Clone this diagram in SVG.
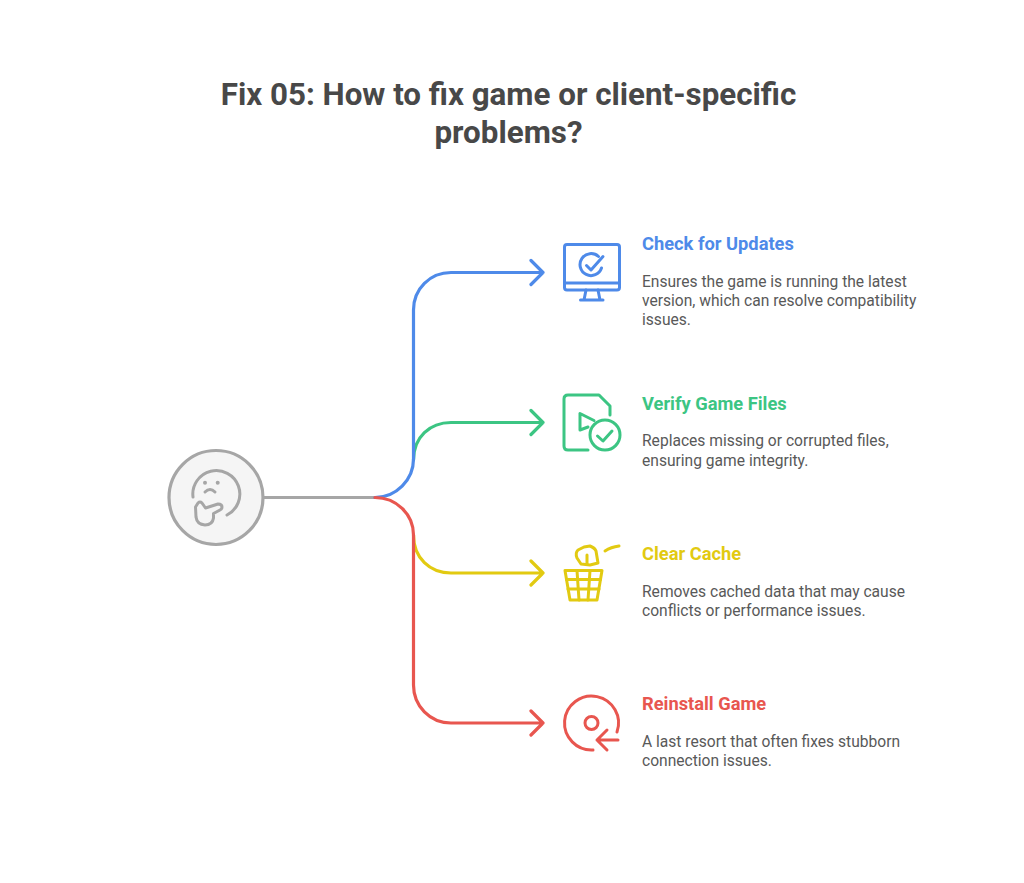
<svg xmlns="http://www.w3.org/2000/svg" width="1024" height="883" viewBox="0 0 1024 883">
<style>
text{font-family:Roboto,"Liberation Sans",sans-serif}
.t{font-size:31.350px;font-weight:700;fill:#484848;text-anchor:middle}
.h{font-size:18.300px;font-weight:700}
.b{font-size:15.600px;fill:#595959}
.l{fill:none;stroke-width:3.200;stroke-linecap:round;stroke-linejoin:round}
.i{fill:none;stroke-width:3;stroke-linecap:round;stroke-linejoin:round}
.blue{stroke:#4e8ae9}.green{stroke:#3cc583}.yellow{stroke:#e2ca11}.red{stroke:#e8564f}.gray{stroke:#a6a6a6}
</style>
<rect width="1024" height="883" fill="#fff"/>
<g id="title"><text class="t" x="508.500" y="105">Fix 05: How to fix game or client-specific</text><text class="t" x="508.500" y="143">problems?</text></g>
<g id="connectors">
<path class="l gray" d="M263 497.500H375"/>
<path class="l green" d="M413.500 460C413.500 437 430 422.500 451 422.500H543M531 410.500L543 422.500L531 434.500"/>
<path class="l yellow" d="M413.500 535C413.500 558 430 573 451 573H543M531 561L543 573L531 585"/>
<path class="l blue" d="M375 497.500C396 497.500 413.500 480 413.500 459V310C413.500 289 430 272.500 451 272.500H543M531 260.500L543 272.500L531 284.500"/>
<path class="l red" d="M375 497.500C396 497.500 413.500 514 413.500 535V685C413.500 706 430 723 451 723H543M531 711L543 723L531 735"/>
</g>
<g id="center">
<circle cx="216" cy="497.500" r="47" fill="#f5f5f5" stroke="#a6a6a6" stroke-width="3.200"/>
<g class="i gray">
<path d="M193 497A23.500 23.500 0 1 1 227 515"/>
<path d="M205 492Q210 487 215 492"/>
<path d="M195.500 507L198 503Q200 501 202 503L205.500 508L218 504Q222 504 222 507Q222 509 220 510L213.500 513.500V518Q212.500 525 205 525Q197 524.500 196 517Z"/>
</g>
<circle cx="205" cy="482.700" r="2" fill="#a6a6a6"/><circle cx="217.700" cy="482.700" r="2" fill="#a6a6a6"/>
</g>
<g id="check-updates">
<g class="i blue">
<rect x="564.500" y="244.500" width="55" height="45.500" rx="2.500"/>
<path d="M564.500 283H619.500M586 290L584 300M598 290L600 300M580.500 300H603"/>
<path d="M598.500 256.500A11 11 0 1 0 601.500 268"/>
<path d="M586.500 265.500L591 270L603 256.500"/>
</g>
<text class="h" x="642" y="249.500" fill="#4e8ae9">Check for Updates</text>
<text class="b" x="642" y="287">Ensures the game is running the latest</text>
<text class="b" x="642" y="306">version, which can resolve compatibility</text>
<text class="b" x="642" y="325">issues.</text>
</g>
<g id="verify-files">
<g class="i green">
<path d="M610 415V406L599 395H568Q564 395 564 399V446Q564 450 568 450H588"/>
<path d="M594 420.500L580 413.500V430L588 427"/>
<circle cx="605" cy="435" r="15"/>
<path d="M597.500 436L603 441L612 431"/>
</g>
<text class="h" x="642" y="409.500" fill="#3cc583">Verify Game Files</text>
<text class="b" x="642" y="446">Replaces missing or corrupted files,</text>
<text class="b" x="642" y="466">ensuring game integrity.</text>
</g>
<g id="clear-cache">
<g class="i yellow">
<path d="M565 570.500H602L597 600H570Z"/>
<path d="M566.500 579.500H600.500M568 589H599M577 570.500L579 600M590 570.500L588 600"/>
<path d="M577 558Q575 553 578 550L584 547L590 546Q595 548 596 551L598 563L590 565L581 564Z"/>
<path d="M587 555V564"/>
<path d="M605 551Q611 547 619 546"/>
</g>
<text class="h" x="642" y="559.500" fill="#e2ca11">Clear Cache</text>
<text class="b" x="642" y="597">Removes cached data that may cause</text>
<text class="b" x="642" y="616">conflicts or performance issues.</text>
</g>
<g id="reinstall">
<g class="i red">
<path d="M617 732A27 27 0 1 0 593 750"/>
<circle cx="591.500" cy="723" r="6.500"/>
<path d="M618 740H597M607 730L597 740L607 750"/>
</g>
<text class="h" x="642" y="709.500" fill="#e8564f">Reinstall Game</text>
<text class="b" x="642" y="747">A last resort that often fixes stubborn</text>
<text class="b" x="642" y="766">connection issues.</text>
</g>
</svg>
